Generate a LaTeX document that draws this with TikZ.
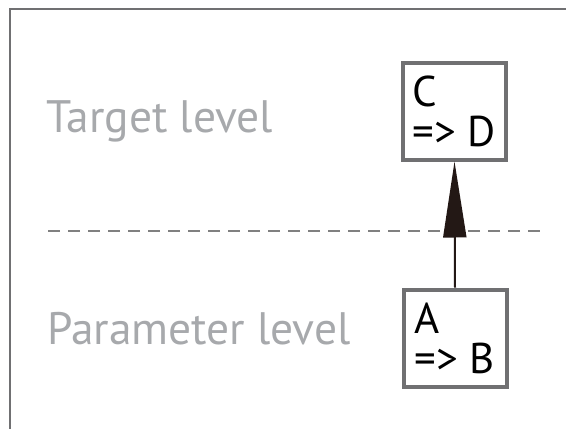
\documentclass[tikz,border=0pt]{standalone}
\usepackage{fontspec}
\setmainfont{PT Sans}
\usetikzlibrary{calc}
\usetikzlibrary{arrows.meta}
\definecolor{boxgray}{HTML}{707072}
\definecolor{labelgray}{HTML}{A7A9AC}
\definecolor{arrowdark}{HTML}{231815}
\tikzstyle{levelbox} = [draw=boxgray, line width=4pt, fill=white, minimum width=103pt, minimum height=97pt, align=left, inner sep=0pt, font=\fontsize{43}{40}\selectfont]
\tikzstyle{levellabel} = [anchor=base west, inner sep=0pt, text=labelgray, font=\fontsize{45.5}{50}\selectfont]

\begin{document}
\begin{tikzpicture}[x=1pt, y=-1pt]
    \useasboundingbox (0,0) rectangle (566,429);
    % frame
    \draw[boxgray, line width=2pt] (566,9) -- (10,9) -- (10,429);

    \node[levellabel] (target_label) at (46,132) {Target level};
    \node[levellabel] (param_label) at ($(target_label.base west)+(1,212)$) {Parameter level};

    \coordinate (split_left) at (48,231);
    \coordinate (split_right) at (541,231);
    \draw[gray, line width=1.3pt, dash pattern=on 12pt off 8pt] (split_left) -- (split_right);

    \node[levelbox] (target_box) at (454.5,111) {C\\=> D};
    \node[levelbox] (param_box) at ($(target_box)+(0.5,227)$) {A\\=> B};

    \draw[arrowdark, line width=2pt, -{Triangle[length=76pt, width=23pt]}] (param_box.north) -- (target_box.south);
\end{tikzpicture}
\end{document}
